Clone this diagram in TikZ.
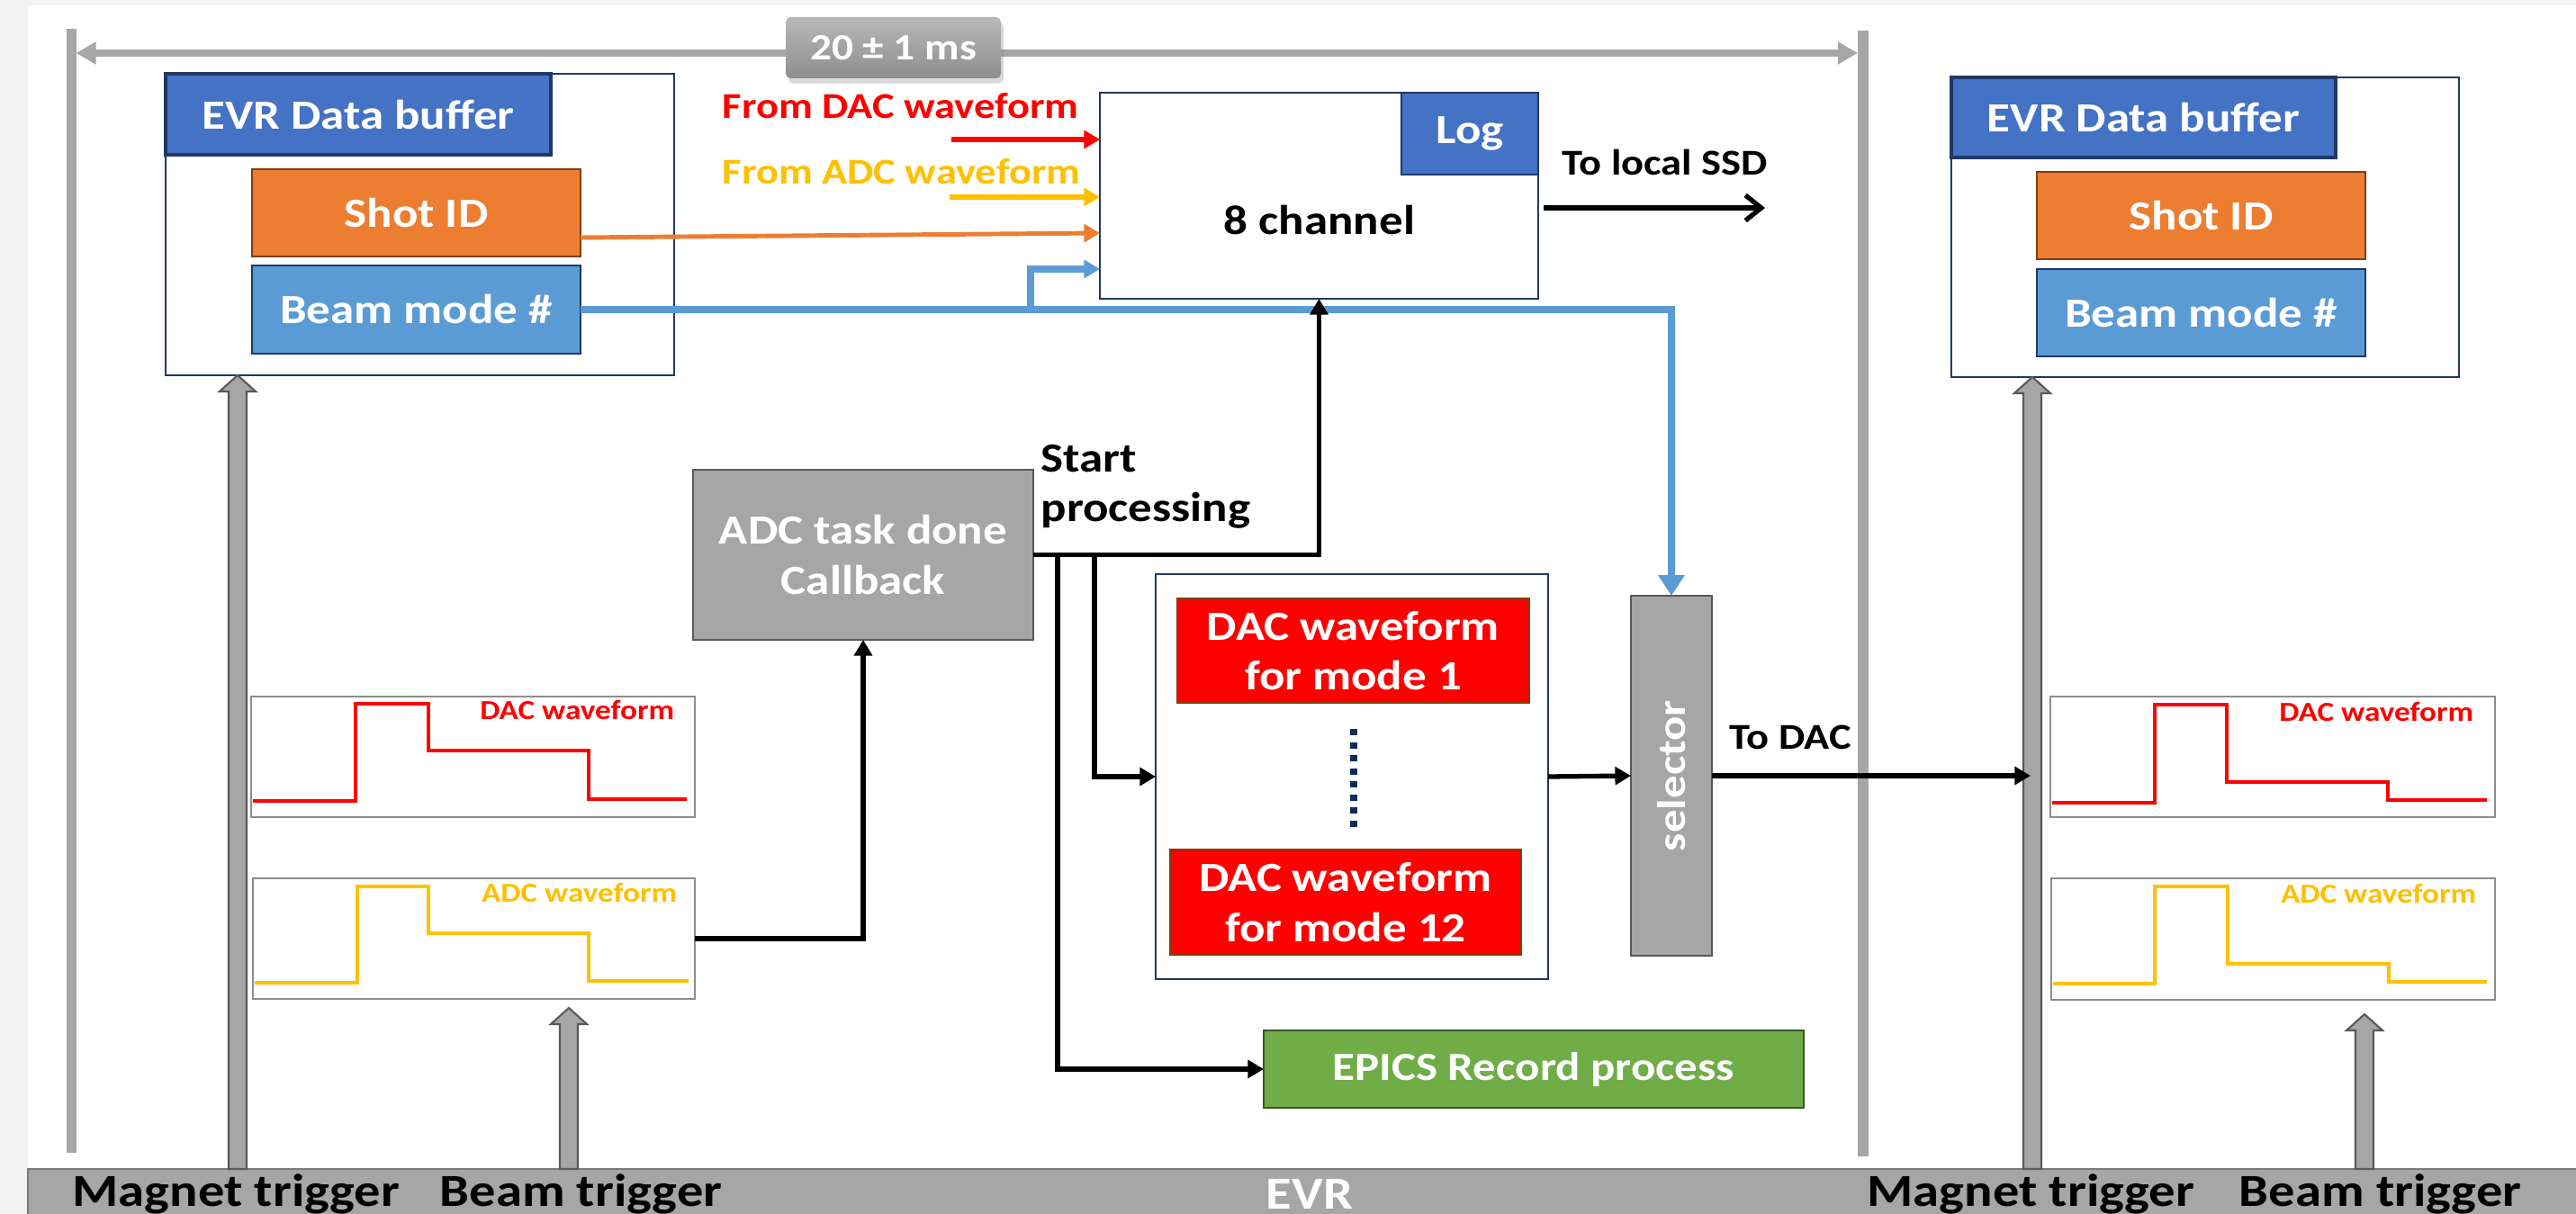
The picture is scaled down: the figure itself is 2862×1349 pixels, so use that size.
\documentclass[tikz,border=0pt]{standalone}
\usepackage{fontspec}
\setmainfont[FakeStretch=1.15]{Carlito}
\usetikzlibrary{arrows.meta,calc,fit,shadows}

\definecolor{pagegray}{HTML}{F2F2F2}
\definecolor{midgray}{HTML}{A6A6A6}
\definecolor{edgegray}{HTML}{595959}
\definecolor{wavegray}{HTML}{8C8C8C}
\definecolor{navy}{HTML}{203864}
\definecolor{hdrblue}{HTML}{4472C4}
\definecolor{beamblue}{HTML}{5B9BD5}
\definecolor{shotorange}{HTML}{ED7D31}
\definecolor{brownedge}{HTML}{843C0C}
\definecolor{wfred}{HTML}{FF0000}
\definecolor{wfyellow}{HTML}{FFC000}
\definecolor{epicsgreen}{HTML}{70AD47}
\definecolor{greenedge}{HTML}{385723}
\definecolor{dotnavy}{HTML}{0F2B5B}
\definecolor{msTop}{HTML}{B8B8B8}
\definecolor{msBot}{HTML}{8E8E8E}

\newcommand\fsBox{\fontsize{13.1pt}{15.8pt}\selectfont\bfseries}
\newcommand\fsEpics{\fontsize{12.6pt}{15pt}\selectfont\bfseries}
\newcommand\fsBar{\fontsize{14.5pt}{17pt}\selectfont\bfseries}
\newcommand\fsSmall{\fontsize{11.5pt}{14pt}\selectfont\bfseries}
\newcommand\fsWave{\fontsize{8.7pt}{10pt}\selectfont\bfseries}
\newcommand\fsMs{\fontsize{11.7pt}{14pt}\selectfont\bfseries}
\newcommand\fsSel{\fontsize{12.6pt}{15pt}\selectfont\bfseries}

% block arrow from a base point up to a tip point (same x)
\newcommand\trigarrow[2]{%
  \filldraw[fill=midgray, draw=edgegray, line width=0.6pt]
    ($(#2)+(-10,0)$) -- ($(#1)+(-10,18)$) -- ($(#1)+(-20,18)$) -- (#1)
    -- ($(#1)+(20,18)$) -- ($(#1)+(10,18)$) -- ($(#2)+(10,0)$) -- cycle;}

\tikzset{
  area/.style={inner sep=0pt, outer sep=0pt},
  blk/.style={area, draw, line width=0.7pt},
  wfbox/.style={area, draw=wavegray, line width=0.7pt, fill=white},
  trace/.style={line width=1.1pt, line join=miter},
  wflabel/.style={font=\fsWave, inner sep=0pt},
  boxtext/.style={font=\fsBox, text=white, inner sep=0pt, align=center},
  tip/.style={-{Triangle[length=5pt,width=5.6pt]}},
  arr/.style={line width=1.5pt, tip},
  colarr/.style={line width=1.8pt, tip},
  bluearr/.style={beamblue, line width=2.1pt},
  barlabel/.style={font=\fsBar, inner sep=0pt, anchor=base west},
}

\begin{document}
\begin{tikzpicture}[x=0.01cm, y=-0.01cm]
\useasboundingbox (0,0) rectangle (2862,1349);
\fill[pagegray] (0,0) rectangle (2862,1349);
\fill[white] (31,6) rectangle (2862,1299);

% EVR bar along the bottom
\node[fit={(31,1299) (2890,1380)}, area, fill=midgray, draw=edgegray!80, line width=0.7pt] (evr) {};
\node[font=\fsBar, text=white, inner sep=0pt, anchor=base] (evrtxt) at (1455,1343) {EVR};
\node[barlabel] (magLtxt) at (80,1340) {Magnet trigger};
\node[barlabel] (beamLtxt) at (488,1340) {Beam trigger};
\node[barlabel] (magRtxt) at (2074,1340) {Magnet trigger};
\node[barlabel] (beamRtxt) at (2487,1340) {Beam trigger};

% period markers and the 20 ms span
\node[fit={(73.5,32) (84.5,1281)}, area, fill=midgray] (tlL) {};
\node[fit={(2064,34) (2076,1285)}, area, fill=midgray] (tlR) {};
\draw[midgray, line width=2.3pt,
      {Triangle[length=6.3pt,width=6.8pt]}-{Triangle[length=6.3pt,width=6.8pt]}]
  (tlL.east |- 0,59) -- (tlR.west |- 0,59);
\node[fit={(873,19) (1112,87)}, area, rounded corners=1.5pt, top color=msTop, bottom color=msBot,
      drop shadow={opacity=0.3, shadow xshift=0.8pt, shadow yshift=-1.6pt}] (ms) {};
\node[font=\fsMs, text=white, inner sep=0pt] (mstxt) at (ms.center) {20 ± 1 ms};

% EVR data buffer, current period
\node[fit={(184,82) (749,417)}, blk, draw=navy, fill=white] (evrL) {};
\node[fit={(184,82) (612,172)}, blk, draw=navy, line width=1pt, fill=hdrblue] (hdrL) {};
\node[boxtext] (hdrLtxt) at (hdrL.center) {EVR Data buffer};
\node[fit={(280,188) (645,285)}, blk, draw=brownedge, fill=shotorange] (shotL) {};
\node[boxtext] (shotLtxt) at (shotL.center) {Shot ID};
\node[fit={(280,295) (645,393)}, blk, draw=navy, fill=beamblue] (beamL) {};
\node[boxtext] (beamLtxt2) at (beamL.center) {Beam mode \#};

% EVR data buffer, next period
\node[fit={(2168,86) (2732,419)}, blk, draw=navy, fill=white] (evrR) {};
\node[fit={(2168,86) (2595,175)}, blk, draw=navy, line width=1pt, fill=hdrblue] (hdrR) {};
\node[boxtext] (hdrRtxt) at (hdrR.center) {EVR Data buffer};
\node[fit={(2263,191) (2628,288)}, blk, draw=brownedge, fill=shotorange] (shotR) {};
\node[boxtext] (shotRtxt) at (shotR.center) {Shot ID};
\node[fit={(2263,299) (2628,396)}, blk, draw=navy, fill=beamblue] (beamR) {};
\node[boxtext] (beamRtxt2) at (beamR.center) {Beam mode \#};

% trigger inputs
\coordinate (mLt) at (evrL.south -| 264,0);
\coordinate (mLb) at (evr.north -| 264,0);
\coordinate (bLt) at (632,1120);
\coordinate (bLb) at (evr.north -| 632,0);
\coordinate (mRt) at (evrR.south -| 2258,0);
\coordinate (mRb) at (evr.north -| 2258,0);
\coordinate (bRt) at (2627,1127);
\coordinate (bRb) at (evr.north -| 2627,0);
\trigarrow{mLt}{mLb}
\trigarrow{bLt}{bLb}
\trigarrow{mRt}{mRb}
\trigarrow{bRt}{bRb}

% waveform plots
\node[fit={(279,774) (772,908)}, wfbox] (dacL) {};
\draw[trace, wfred] (281,890) -- (395,890) -- (395,782) -- (476,782) -- (476,834) -- (654,834) -- (654,888) -- (763,888);
\node[wflabel, text=wfred, anchor=base east] (dacLtxt) at (750,800) {DAC waveform};
\node[fit={(281,976) (772,1110)}, wfbox] (adcL) {};
\draw[trace, wfyellow] (283,1092) -- (397,1092) -- (397,985) -- (476,985) -- (476,1037) -- (654,1037) -- (654,1090) -- (765,1090);
\node[wflabel, text=wfyellow, anchor=base east] (adcLtxt) at (753,1002) {ADC waveform};

\node[fit={(2278,774) (2772,908)}, wfbox] (dacR) {};
\draw[trace, wfred] (2280,892) -- (2394,892) -- (2394,783) -- (2474,783) -- (2474,869) -- (2653,869) -- (2653,889) -- (2763,889);
\node[wflabel, text=wfred, anchor=base east] (dacRtxt) at (2749,802) {DAC waveform};
\node[fit={(2279,976) (2772,1111)}, wfbox] (adcR) {};
\draw[trace, wfyellow] (2281,1093) -- (2394,1093) -- (2394,985) -- (2475,985) -- (2475,1071) -- (2654,1071) -- (2654,1091) -- (2763,1091);
\node[wflabel, text=wfyellow, anchor=base east] (adcRtxt) at (2752,1003) {ADC waveform};

% logging block
\node[fit={(1222,103) (1709,332)}, blk, draw=navy, fill=white] (ch8) {};
\node[fit={(1557,103) (1709,194)}, blk, draw=navy, fill=hdrblue] (log) {};
\node[boxtext] (logtxt) at (log.center) {Log};
\node[font=\fsBox, inner sep=0pt, anchor=base] (ch8txt) at (1466,261) {8 channel};
\node[font=\fsSmall, text=wfred, inner sep=0pt, anchor=base west] (fdac) at (802,132) {From DAC waveform};
\node[font=\fsSmall, text=wfyellow, inner sep=0pt, anchor=base west] (fadc) at (802,205) {From ADC waveform};
\coordinate (fdacs) at (1057,155);
\coordinate (fadcs) at (1055,219);
\draw[colarr, wfred] (fdacs) -- (ch8.west |- fdacs);
\draw[colarr, wfyellow] (fadcs) -- (ch8.west |- fadcs);
\draw[line width=1.4pt, shotorange, tip] (shotL.east |- 0,264) -- (ch8.west |- 0,259);
\coordinate (ssdEnd) at (1961,231);
\draw[line width=1.5pt, -{Straight Barb[length=5pt,width=8pt]}, shorten <=1.7pt] (ch8.east |- ssdEnd) -- (ssdEnd);
\node[font=\fsSmall, inner sep=0pt, anchor=base west] (ssdtxt) at (1735,195) {To local SSD};

% processing chain
\node[fit={(770,522) (1148,711)}, blk, draw=edgegray, fill=midgray] (adc) {};
\node[boxtext] (adctxt) at (adc.center) {ADC task done\\Callback};
\node[font=\fsBox, inner sep=0pt, anchor=west, align=left] (sp) at (1156,541) {Start\\processing};
\node[fit={(1284,638) (1720,1088)}, blk, draw=navy, fill=white] (grp) {};
\node[fit={(1308,665) (1699,781)}, blk, draw=brownedge, fill=wfred] (m1) {};
\node[boxtext] (m1txt) at (m1.center) {DAC waveform\\for mode 1};
\node[fit={(1300,944) (1690,1061)}, blk, draw=brownedge, fill=wfred] (m12) {};
\node[boxtext] (m12txt) at (m12.center) {DAC waveform\\for mode 12};
\draw[dotnavy, line width=2.4pt, dash pattern=on 0.07cm off 0.075cm] (1504,810) -- (1504,925);
\node[fit={(1812,662) (1902,1062)}, blk, draw=edgegray, fill=midgray] (sel) {};
\node[rotate=90, text=white, font=\fsSel, inner sep=0pt] (seltxt) at (sel.center) {selector};
\node[fit={(1404,1145) (2004,1231)}, blk, draw=greenedge, fill=epicsgreen] (epics) {};
\node[boxtext, font=\fsEpics] (epicstxt) at (epics.center) {EPICS Record process};

% beam mode distribution
\coordinate (bbr) at (beamL.east -| 1145,0);
\draw[bluearr, -{Triangle[length=6.5pt,width=8pt]}] (beamL.east) -| (sel.north);
\draw[bluearr, tip] (bbr) |- (ch8.west |- 0,299);

% control flow
\draw[arr] (adcL.east) -| (adc.south);
\draw[arr] (adc.east) -| (ch8.south);
\coordinate (br1) at (adc.east -| 1216,0);
\coordinate (br2) at (adc.east -| 1175,0);
\draw[arr] (br1) |- (grp.west);
\draw[arr] (br2) |- (epics.west);
\draw[arr] (grp.east) -- (sel.west);
\coordinate (todac) at (sel.east -| 2256,0);
\draw[arr] (sel.east) -- (todac);
\node[font=\fsSmall, inner sep=0pt, anchor=base west] (todactxt) at (1921,833) {To DAC};
\end{tikzpicture}
\end{document}
